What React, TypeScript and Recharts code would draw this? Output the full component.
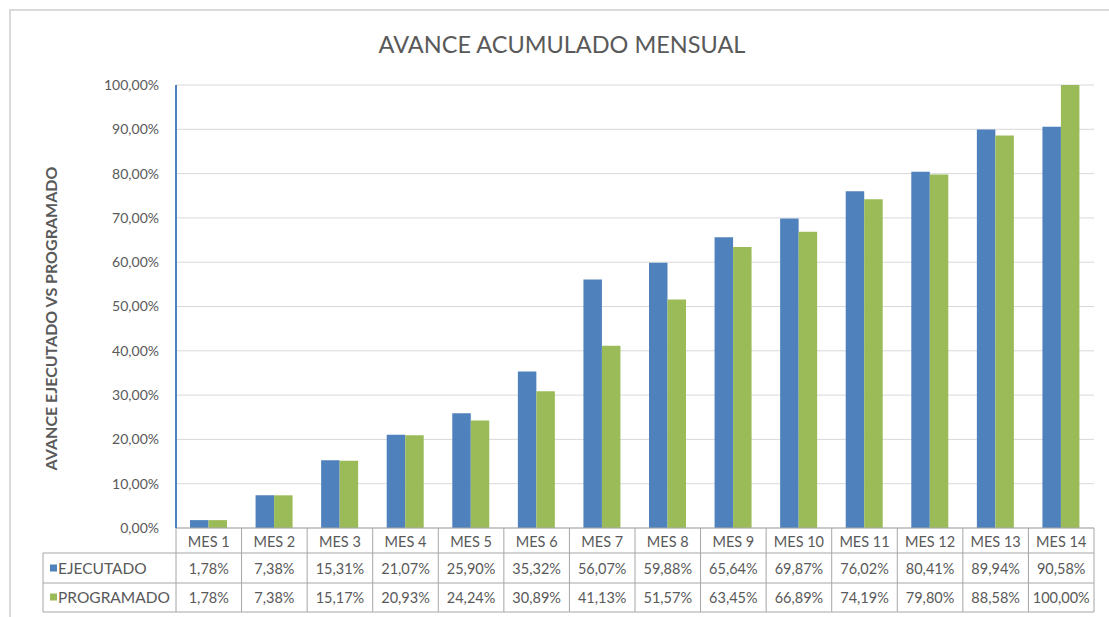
import React from 'react';
import { BarChart, Bar, XAxis, YAxis, CartesianGrid, Label } from 'recharts';

const categories = ['MES 1', 'MES 2', 'MES 3', 'MES 4', 'MES 5', 'MES 6', 'MES 7', 'MES 8', 'MES 9', 'MES 10', 'MES 11', 'MES 12', 'MES 13', 'MES 14'];
const ejecutado = [1.78, 7.38, 15.31, 21.07, 25.9, 35.32, 56.07, 59.88, 65.64, 69.87, 76.02, 80.41, 89.94, 90.58];
const programado = [1.78, 7.38, 15.17, 20.93, 24.24, 30.89, 41.13, 51.57, 63.45, 66.89, 74.19, 79.8, 88.58, 100.0];
const yTicks = [0, 10, 20, 30, 40, 50, 60, 70, 80, 90, 100];
const seriesNames = ['EJECUTADO', 'PROGRAMADO'];

const data = categories.map((c, i) => ({ name: c, ejecutado: ejecutado[i], programado: programado[i] }));

const W = 1109;
const H = 617;
const MARGIN = { top: 85, right: 15, bottom: 5, left: 0 };
const Y_AXIS_W = 176;
const X_AXIS_H = 84;
const PLOT_W = W - MARGIN.left - MARGIN.right - Y_AXIS_W;
const TABLE_LEFT = 43;

const BLUE = '#4F81BD';
const GREEN = '#9BBB59';
const TEXT = '#595959';
const TABLE_LINE = '#a6a6a6';
const FONT = 'Lato, "Open Sans", sans-serif';

const fmt = (v: number) => v.toFixed(2).replace('.', ',') + '%';

const TableTick = (props: any) => {
  const { x, y, payload, index } = props;
  const i = payload && typeof payload.index === 'number' ? payload.index : index;
  const bw = PLOT_W / categories.length;
  const left = x - bw / 2;
  const right = x + bw / 2;
  const r1 = y + 25;
  const r2 = y + 55;
  const r3 = y + 84;
  const hx0 = i === 0 ? TABLE_LEFT : left;
  const values = [ejecutado[i], programado[i]];
  const colors = [BLUE, GREEN];
  return (
    <g>
      <line x1={right} y1={y} x2={right} y2={r3} stroke={TABLE_LINE} strokeWidth={1} />
      {i === 0 && <line x1={left} y1={y} x2={left} y2={r3} stroke={TABLE_LINE} strokeWidth={1} />}
      {i === 0 && <line x1={TABLE_LEFT} y1={r1} x2={TABLE_LEFT} y2={r3} stroke={TABLE_LINE} strokeWidth={1} />}
      <line x1={hx0} y1={r1} x2={right} y2={r1} stroke={TABLE_LINE} strokeWidth={1} />
      <line x1={hx0} y1={r2} x2={right} y2={r2} stroke={TABLE_LINE} strokeWidth={1} />
      <line x1={hx0} y1={r3} x2={right} y2={r3} stroke={TABLE_LINE} strokeWidth={1} />
      <text x={x} y={y + 13} textAnchor="middle" dominantBaseline="central" fill={TEXT} fontSize={14.5} fontFamily={FONT}>
        {payload.value}
      </text>
      {values.map((v, k) => (
        <text key={k} x={x} y={k === 0 ? y + 40 : y + 69} textAnchor="middle" dominantBaseline="central" fill={TEXT} fontSize={14.5} fontFamily={FONT}>
          {fmt(v)}
        </text>
      ))}
      {i === 0 &&
        seriesNames.map((n, k) => {
          const cy = k === 0 ? y + 40 : y + 69;
          return (
            <g key={n}>
              <rect x={TABLE_LEFT + 7} y={cy - 3.5} width={7} height={7} fill={colors[k]} />
              <text x={TABLE_LEFT + 15} y={cy} textAnchor="start" dominantBaseline="central" fill={TEXT} fontSize={15.5} fontFamily={FONT}>
                {n}
              </text>
            </g>
          );
        })}
    </g>
  );
};

const YLabel = (props: any) => {
  const vb = props.viewBox || { y: MARGIN.top, height: 443 };
  const cx = 50;
  const cy = vb.y + vb.height / 2 + 12;
  return (
    <text
      x={cx}
      y={cy}
      transform={`rotate(-90 ${cx} ${cy})`}
      textAnchor="middle"
      dominantBaseline="central"
      fill={TEXT}
      fontSize={16}
      fontWeight="bold"
      fontFamily={FONT}
    >
      AVANCE EJECUTADO VS PROGRAMADO
    </text>
  );
};

export default function App() {
  return (
    <div style={{ position: 'absolute', left: 0, top: 0, width: W, height: H, background: '#ffffff', overflow: 'hidden' }}>
      <div style={{ position: 'absolute', left: 9, top: 9, width: W, height: H, borderLeft: '2px solid #d9d9d9', borderTop: '2px solid #d9d9d9', boxSizing: 'border-box' }} />
      <div
        style={{
          position: 'absolute',
          left: 62,
          top: 28,
          width: 1000,
          textAlign: 'center',
          fontFamily: FONT,
          fontSize: 23.5,
          color: TEXT,
          lineHeight: '32px',
        }}
      >
        AVANCE ACUMULADO MENSUAL
      </div>
      <BarChart width={W} height={H} data={data} margin={MARGIN} barGap={0} barSize={18.5}>
        <CartesianGrid vertical={false} stroke="#d9d9d9" />
        <XAxis
          dataKey="name"
          interval={0}
          tickLine={false}
          tickSize={0}
          tickMargin={0}
          height={X_AXIS_H}
          axisLine={{ stroke: TABLE_LINE }}
          tick={<TableTick />}
        />
        <YAxis
          domain={[0, 100]}
          ticks={yTicks}
          interval={0}
          width={Y_AXIS_W}
          tickLine={false}
          tickSize={0}
          tickMargin={17}
          tickFormatter={fmt}
          axisLine={{ stroke: BLUE, strokeWidth: 2 }}
          tick={{ fill: TEXT, fontSize: 14, fontFamily: FONT }}
          label={<Label content={<YLabel />} />}
        />
        <Bar dataKey="ejecutado" name="EJECUTADO" fill={BLUE} isAnimationActive={false} />
        <Bar dataKey="programado" name="PROGRAMADO" fill={GREEN} isAnimationActive={false} />
      </BarChart>
    </div>
  );
}
